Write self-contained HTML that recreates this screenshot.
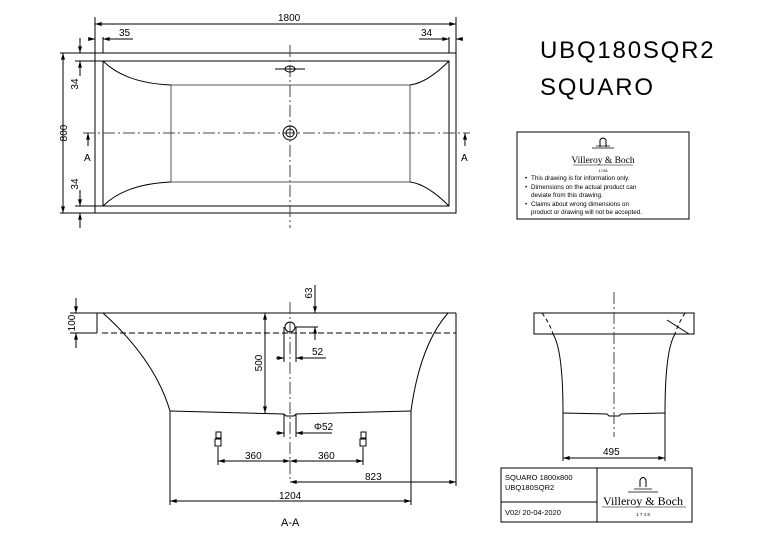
<!DOCTYPE html>
<html><head><meta charset="utf-8"><style>
html,body{margin:0;padding:0;background:#fff;}
svg{display:block;}
text{font-family:"Liberation Sans",sans-serif;fill:#000;}
</style></head><body>
<svg width="765" height="543" viewBox="0 0 765 543" xmlns="http://www.w3.org/2000/svg">
<defs>
<marker id="a" viewBox="0 0 10 6" refX="10" refY="3" markerWidth="8" markerHeight="4" orient="auto-start-reverse"><path d="M0,0L10,3L0,6z" fill="#000"/></marker>
</defs>
<g stroke="#000" stroke-width="1" fill="none">
<rect x="95" y="53" width="361" height="160"/>
<rect x="103" y="61" width="346" height="145"/>
<rect x="171" y="85" width="239" height="97" stroke="#555"/>
<path d="M103,61 Q125,83 171,85 M449,61 Q427,83 410,85 M103,206 Q125,184 171,182 M449,206 Q427,184 410,182"/>
<line x1="290" y1="45" x2="290" y2="228" stroke-dasharray="12,3,2,3" stroke="#444"/>
<line x1="83" y1="133" x2="470" y2="133" stroke-dasharray="12,3,2,3" stroke="#444"/>
<circle cx="290" cy="133" r="7"/><circle cx="290" cy="133" r="4"/>
<ellipse cx="290" cy="69" rx="5" ry="3"/><line x1="275" y1="69" x2="305" y2="69"/>
<line x1="95" y1="17" x2="95" y2="53"/><line x1="456" y1="17" x2="456" y2="53"/>
<line x1="95" y1="24" x2="456" y2="24" marker-start="url(#a)" marker-end="url(#a)"/>
<line x1="103" y1="37" x2="103" y2="53"/><line x1="449" y1="37" x2="449" y2="53"/>
<line x1="88" y1="39" x2="95" y2="39" marker-end="url(#a)"/><line x1="110" y1="39" x2="103" y2="39" marker-end="url(#a)"/><line x1="110" y1="39" x2="133" y2="39"/>
<line x1="442" y1="39" x2="449" y2="39" marker-end="url(#a)"/><line x1="463" y1="39" x2="456" y2="39" marker-end="url(#a)"/><line x1="419" y1="39" x2="442" y2="39"/>
<line x1="60" y1="53" x2="95" y2="53"/><line x1="60" y1="213" x2="95" y2="213"/>
<line x1="63" y1="53" x2="63" y2="213" marker-start="url(#a)" marker-end="url(#a)"/>
<line x1="75" y1="61" x2="103" y2="61"/><line x1="75" y1="206" x2="103" y2="206"/>
<line x1="80" y1="38" x2="80" y2="53" marker-end="url(#a)"/><line x1="80" y1="76" x2="80" y2="61" marker-end="url(#a)"/>
<line x1="80" y1="190" x2="80" y2="206" marker-end="url(#a)"/><line x1="80" y1="228" x2="80" y2="213" marker-end="url(#a)"/>
<line x1="88" y1="146" x2="88" y2="133" marker-end="url(#a)"/><line x1="465" y1="146" x2="465" y2="133" marker-end="url(#a)"/>

<line x1="97" y1="313" x2="456" y2="313"/>
<line x1="102" y1="333" x2="456" y2="333" stroke-dasharray="6,3"/>
<line x1="97" y1="313" x2="97" y2="333"/>
<line x1="456" y1="313" x2="456" y2="486"/>
<path d="M103,313 Q155,360 170,411" />
<path d="M448,313 Q420,345 411,411"/>
<path d="M170,411 L284,414 L286,416 L294,416 L296,414 L411,411"/>
<line x1="290" y1="302" x2="290" y2="482" stroke-dasharray="12,3,2,3" stroke="#444"/>
<circle cx="290" cy="327" r="5"/>
<line x1="284" y1="327" x2="284" y2="362"/><line x1="296" y1="327" x2="296" y2="362"/>
<line x1="284" y1="414" x2="284" y2="437"/><line x1="296" y1="414" x2="296" y2="437"/>
<line x1="170" y1="411" x2="170" y2="505"/><line x1="411" y1="411" x2="411" y2="505"/>
<line x1="170" y1="501" x2="411" y2="501" marker-start="url(#a)" marker-end="url(#a)"/>
<line x1="290" y1="482" x2="456" y2="482" marker-start="url(#a)" marker-end="url(#a)"/>
<line x1="218" y1="447" x2="218" y2="465"/><line x1="363" y1="447" x2="363" y2="465"/>
<line x1="218" y1="461" x2="290" y2="461" marker-start="url(#a)" marker-end="url(#a)"/>
<line x1="290" y1="461" x2="363" y2="461" marker-start="url(#a)" marker-end="url(#a)"/>
<rect x="216" y="432" width="5" height="6"/><rect x="215" y="439" width="6" height="7"/>
<rect x="361" y="432" width="5" height="6"/><rect x="360" y="439" width="6" height="7"/>
<line x1="265" y1="313" x2="265" y2="413" marker-start="url(#a)" marker-end="url(#a)"/>
<line x1="70" y1="313" x2="97" y2="313"/><line x1="70" y1="333" x2="97" y2="333"/>
<line x1="76" y1="298" x2="76" y2="313" marker-end="url(#a)"/><line x1="76" y1="348" x2="76" y2="333" marker-end="url(#a)"/>
<line x1="296" y1="327" x2="318" y2="327"/>
<line x1="315" y1="285" x2="315" y2="313" marker-end="url(#a)"/><line x1="315" y1="340" x2="315" y2="327" marker-end="url(#a)"/>
<line x1="276" y1="358" x2="284" y2="358" marker-end="url(#a)"/><line x1="304" y1="358" x2="296" y2="358" marker-end="url(#a)"/><line x1="304" y1="358" x2="326" y2="358"/>
<line x1="276" y1="433" x2="284" y2="433" marker-end="url(#a)"/><line x1="304" y1="433" x2="296" y2="433" marker-end="url(#a)"/><line x1="304" y1="433" x2="332" y2="433"/>

<rect x="534" y="313" width="160" height="21"/>
<line x1="553" y1="334" x2="675" y2="334" stroke-dasharray="6,3"/>
<path d="M542,313 Q550,324 553,334" stroke-dasharray="4,3"/>
<path d="M553,334 Q563,350 563,413"/>
<path d="M685,313 Q678,324 675,334" stroke-dasharray="4,3"/>
<path d="M675,334 Q665,350 665,413"/>
<line x1="667" y1="320" x2="689" y2="334"/>
<path d="M563,413 L607,414 L609,416 L619,416 L621,414 L665,413"/>
<line x1="614" y1="292" x2="614" y2="437" stroke-dasharray="12,3,2,3" stroke="#444"/>
<line x1="563" y1="413" x2="563" y2="461"/><line x1="665" y1="413" x2="665" y2="461"/>
<line x1="563" y1="458" x2="665" y2="458" marker-start="url(#a)" marker-end="url(#a)"/>

<rect x="501" y="468" width="191" height="54"/>
<line x1="597" y1="468" x2="597" y2="522"/>
<line x1="501" y1="502" x2="597" y2="502"/>
<rect x="517" y="132" width="172" height="87"/>
</g>
<g stroke="#000" fill="none" stroke-width="1">
<path d="M600,147 V140 Q603,136 606,140 V147"/>
<line x1="596" y1="146" x2="610" y2="146" stroke-width="0.7"/>
<line x1="592" y1="148" x2="614" y2="148" stroke-width="0.7"/>
<path d="M640,487 V480 Q643,475 646,480 V487"/>
<line x1="634" y1="489" x2="652" y2="489" stroke-width="0.7"/>
<line x1="628" y1="492" x2="658" y2="492" stroke-width="0.7"/>
</g>
<g font-size="10">
<text x="278" y="21">1800</text>
<text x="119" y="36">35</text>
<text x="421" y="36">34</text>
<text transform="translate(67,133) rotate(-90)" text-anchor="middle">800</text>
<text transform="translate(78,84) rotate(-90)" text-anchor="middle">34</text>
<text transform="translate(78,184) rotate(-90)" text-anchor="middle">34</text>
<text x="84" y="161">A</text>
<text x="461" y="161">A</text>
<text transform="translate(75,323) rotate(-90)" text-anchor="middle">100</text>
<text transform="translate(262,363) rotate(-90)" text-anchor="middle">500</text>
<text transform="translate(312,293) rotate(-90)" text-anchor="middle">63</text>
<text x="312" y="355">52</text>
<text x="314" y="430">Φ52</text>
<text x="245" y="459">360</text>
<text x="318" y="459">360</text>
<text x="365" y="480">823</text>
<text x="279" y="499">1204</text>
<text x="281" y="526" font-size="11">A-A</text>
<text x="603" y="455">495</text>
</g>
<text x="540" y="58" font-size="24" letter-spacing="1.8">UBQ180SQR2</text>
<text x="540" y="95" font-size="24" letter-spacing="1.8">SQUARO</text>
<text x="603" y="163" font-size="9.5" text-anchor="middle" style="font-family:'Liberation Serif',serif">Villeroy &amp; Boch</text>
<text x="603" y="172" font-size="4" text-anchor="middle">1748</text>
<text x="643" y="505" font-size="12" text-anchor="middle" style="font-family:'Liberation Serif',serif">Villeroy &amp; Boch</text>
<text x="643" y="516" font-size="4.5" text-anchor="middle">1 7 4 8</text>
<line x1="573" y1="165" x2="633" y2="165" stroke="#000" stroke-width="0.6"/>
<line x1="602" y1="507" x2="686" y2="507" stroke="#000" stroke-width="0.6"/>
<g font-size="6.3">
<text x="525" y="180">•</text><text x="531" y="180">This drawing is for information only.</text>
<text x="525" y="189">•</text><text x="531" y="189">Dimensions on the actual product can</text>
<text x="531" y="197">deviate from this drawing.</text>
<text x="525" y="206">•</text><text x="531" y="206">Claims about wrong dimensions on</text>
<text x="531" y="214">product or drawing will not be accepted.</text>
</g>
<g font-size="7.5">
<text x="505" y="480">SQUARO 1800x800</text>
<text x="505" y="490">UBQ180SQR2</text>
<text x="505" y="515">V02/ 20-04-2020</text>
</g>
</svg>
</body></html>
